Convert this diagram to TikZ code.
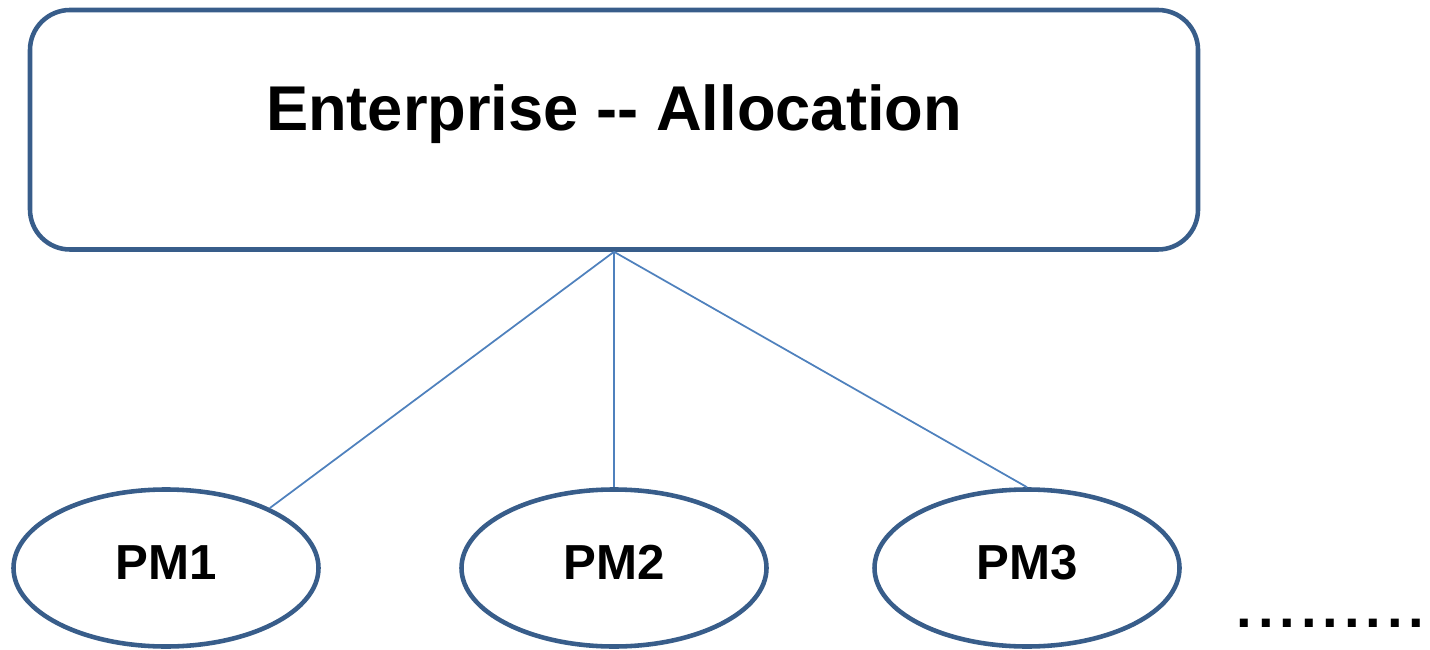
\documentclass[tikz,border=0pt]{standalone}
\usepackage{fontspec}
\setmainfont{Liberation Sans}
\usetikzlibrary{shapes.geometric}
\usepackage{xcolor}
\definecolor{boxblue}{HTML}{385D8A}
\definecolor{lineblue}{HTML}{4F81BD}

\begin{document}
\begin{tikzpicture}[
    box/.style={rectangle, draw=boxblue, line width=1.3pt, rounded corners=0.4cm,
                minimum width=11.68cm, minimum height=2.395cm, inner sep=0pt,
                font=\fontsize{18}{22}\selectfont\bfseries,
                text height=0.5cm, text depth=0.48cm},
    pm/.style={ellipse, draw=boxblue, line width=1.3pt, minimum width=3.05cm,
               minimum height=1.57cm, inner sep=0pt,
               font=\fontsize{14}{17}\selectfont\bfseries,
               text height=0.354cm, text depth=0.12cm},
    link/.style={draw=lineblue, line width=0.5pt}
]

\useasboundingbox (0,0) rectangle (14.3,-6.5);

% --- Grid Coordinates ---
% Columns
\def\cO{1.66}   % PM1
\def\cI{6.14}   % centre of the diagram
\def\cII{10.27} % PM3

% Rows
\def\rO{-1.2975} % Top row
\def\rI{-5.68}   % Bottom row

% --- Top Row ---
\node[box] (ent) at (\cI, \rO) {Enterprise -{}- Allocation};

% --- Bottom Row ---
\node[pm] (pm1) at (\cO, \rI) {PM1};
\node[pm] (pm2) at (\cI, \rI) {PM2};
\node[pm] (pm3) at (\cII, \rI) {PM3};
\node[anchor=base west, inner sep=0pt,
      font=\fontsize{16}{20}\selectfont\bfseries\addfontfeature{LetterSpace=10.4}]
    (dots) at (12.36, -6.27) {.........};

% --- Links ---
\draw[link] (ent.south) -- (pm1.30);
\draw[link] (ent.south) -- (pm2.north);
\draw[link] (ent.south) -- (pm3.north);

\end{tikzpicture}
\end{document}
